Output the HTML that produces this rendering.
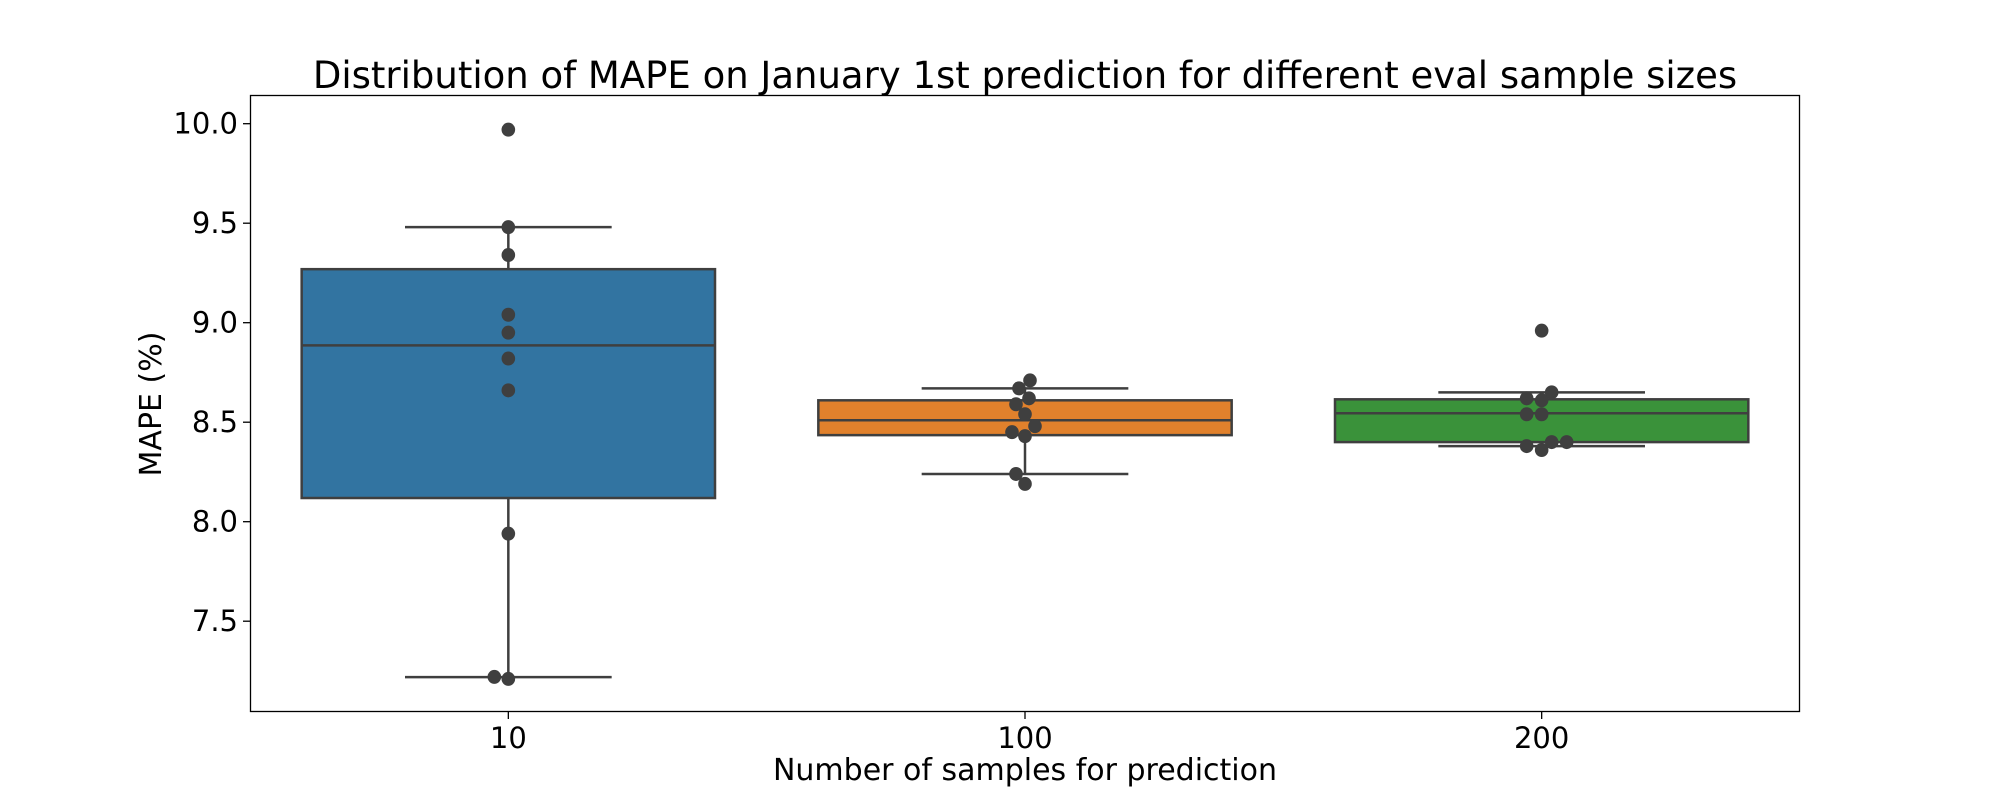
<!DOCTYPE html>
<html><head><meta charset="utf-8"><style>
html,body{margin:0;padding:0;background:#fff;}
svg{display:block;font-family:"DejaVu Sans","Liberation Sans",sans-serif;}
</style></head><body>
<svg id="chart" width="2000" height="800" viewBox="0 0 2000 800" xmlns="http://www.w3.org/2000/svg">
<rect width="2000" height="800" fill="#fff"/>
<text x="1025" y="88" font-size="37" text-anchor="middle" fill="#000">Distribution of MAPE on January 1st prediction for different eval sample sizes</text>
<text x="1025" y="780" font-size="30" text-anchor="middle" fill="#000">Number of samples for prediction</text>
<text transform="translate(161,404) rotate(-90)" font-size="30" text-anchor="middle" fill="#000">MAPE (%)</text>
<g id="plot"></g>
<rect x="250.5" y="95.5" width="1549" height="616" fill="none" stroke="#000" stroke-width="1.3"/>
</svg>
<script>
const categories = ["10","100","200"];
const q1 = [8.119, 8.435, 8.40];
const medians = [8.886, 8.51, 8.545];
const q3 = [9.269, 8.61, 8.615];
const whiskLo = [7.219, 8.24, 8.38];
const whiskHi = [9.48, 8.67, 8.65];
const points10 = [9.97, 9.48, 9.34, 9.04, 8.95, 8.82, 8.66, 7.94, 7.22, 7.21];
const points100 = [8.71, 8.67, 8.62, 8.59, 8.54, 8.48, 8.45, 8.43, 8.24, 8.19];
const points200 = [8.96, 8.65, 8.62, 8.61, 8.54, 8.54, 8.40, 8.40, 8.38, 8.36];
const yTicks = [7.5, 8.0, 8.5, 9.0, 9.5, 10.0];
const yTickLabels = ["7.5","8.0","8.5","9.0","9.5","10.0"];
// swarm jitter (visual layout only)
const jit10 = [0,0,0,0,0,0,0,0,-14,0];
const jit100 = [5,-6,4,-9,0,10,-13,0,-9,0];
const jit200 = [0,10,-15,0,-15,0,10,25,-15,0];
const colors = ["#3274a1","#e1812c","#3a923a"];

const NS = "http://www.w3.org/2000/svg";
const plot = document.getElementById("plot");
const svg = document.getElementById("chart");
const X0 = 250, X1 = 1800;
const step = (X1 - X0) / categories.length;
function xc(i){ return X0 + step * (i + 0.5); }
function y(v){ return 123.7 + (10 - v) * 199; }
function mk(tag, attrs, parent){
  const e = document.createElementNS(NS, tag);
  for (const k in attrs) e.setAttribute(k, attrs[k]);
  (parent || plot).appendChild(e);
  return e;
}
const edge = "#3f3f3f";
const bw = step * 0.8;
const allPts = [points10, points100, points200];
const allJit = [jit10, jit100, jit200];
categories.forEach((c, i) => {
  const cx = xc(i);
  const w1 = mk("line", {x1:cx, x2:cx, y1:y(whiskHi[i]), y2:y(q3[i]), stroke:edge, "stroke-width":2.5});
  
  
  const w2 = mk("line", {x1:cx, x2:cx, y1:y(q1[i]), y2:y(whiskLo[i]), stroke:edge, "stroke-width":2.5});
  
  
  const b = mk("rect", {x:cx-bw/2, y:y(q3[i]), width:bw, height:y(q1[i])-y(q3[i]), fill:colors[i], stroke:edge, "stroke-width":2.5});
  
  
  const m = mk("line", {x1:cx-bw/2, x2:cx+bw/2, y1:y(medians[i]), y2:y(medians[i]), stroke:edge, "stroke-width":2.5});
  
  
  [whiskHi[i], whiskLo[i]].forEach((v, k) => {
    const cap = mk("line", {x1:cx-bw/4, x2:cx+bw/4, y1:y(v), y2:y(v), stroke:edge, "stroke-width":2.5});
    
    
  });
  allPts[i].forEach((v, k) => {
    const p = mk("ellipse", {cx:cx + allJit[i][k], cy:y(v), rx:6.8, ry:7, fill:edge});
    
    
  });
  const t = mk("line", {x1:cx, x2:cx, y1:712, y2:719, stroke:"#000", "stroke-width":1.3}, svg);
  
  
  const tl = mk("text", {x:cx, y:748, "font-size":29, "text-anchor":"middle", fill:"#000"}, svg);
  tl.textContent = c;
  
  
});
yTicks.forEach((v, i) => {
  const t = mk("line", {x1:243, x2:250, y1:y(v), y2:y(v), stroke:"#000", "stroke-width":1.3}, svg);
  
  
  const tl = mk("text", {x:238, y:y(v)+10, "font-size":29, "text-anchor":"end", fill:"#000"}, svg);
  tl.textContent = yTickLabels[i];
  
  
});
</script>
</body></html>
